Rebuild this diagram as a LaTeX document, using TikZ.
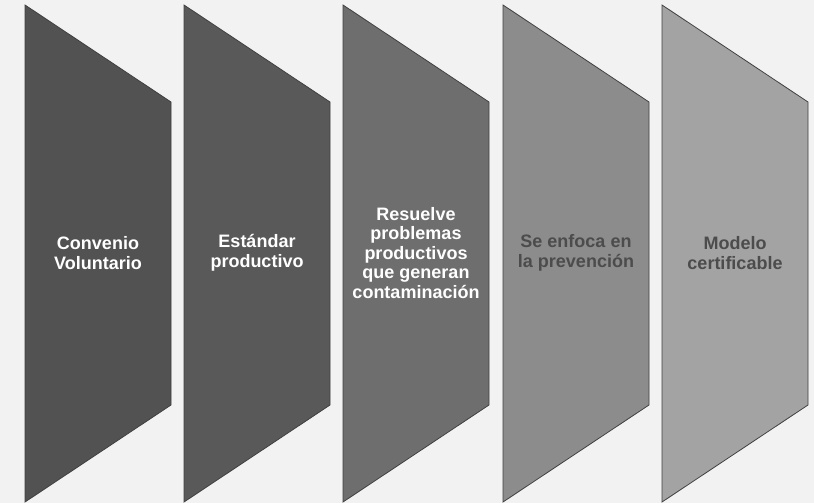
\documentclass[tikz,border=0pt]{standalone}
\usepackage{fontspec}
\setmainfont{Liberation Sans}
\begin{document}
\begin{tikzpicture}[x=1pt,y=-1pt,
  chev/.style={draw=black!75,line width=0.8pt},
  lbl/.style={font=\bfseries\fontsize{18}{19.5}\selectfont,align=center,inner sep=0pt},
  lightlbl/.style={lbl,text=white},
  darklbl/.style={lbl,text=black!70}]
\fill[black!5] (0,0) rectangle (814,503);
\useasboundingbox (0,0) rectangle (814,503);
\foreach \x/\c/\n in {25/black!68/s1,184/black!65/s2,343/black!57/s3,503/black!45/s4,662/black!36/s5}{
  \filldraw[chev,fill=\c] (\x,5) -- (\x+146,102) -- (\x+146,405) -- (\x,502) -- cycle;
  \coordinate (\n) at (\x+73,253);
}
\node[lightlbl] (t1) at (s1) {Convenio\\Voluntario};
\node[lightlbl] (t2) at (s2) {Estándar\\productivo};
\node[lightlbl] (t3) at (s3) {Resuelve\\problemas\\productivos\\que generan\\contaminación};
\node[darklbl] (t4) at (s4) {Se enfoca en\\la prevención};
\node[darklbl] (t5) at (s5) {Modelo\\certificable};
\end{tikzpicture}
\end{document}
